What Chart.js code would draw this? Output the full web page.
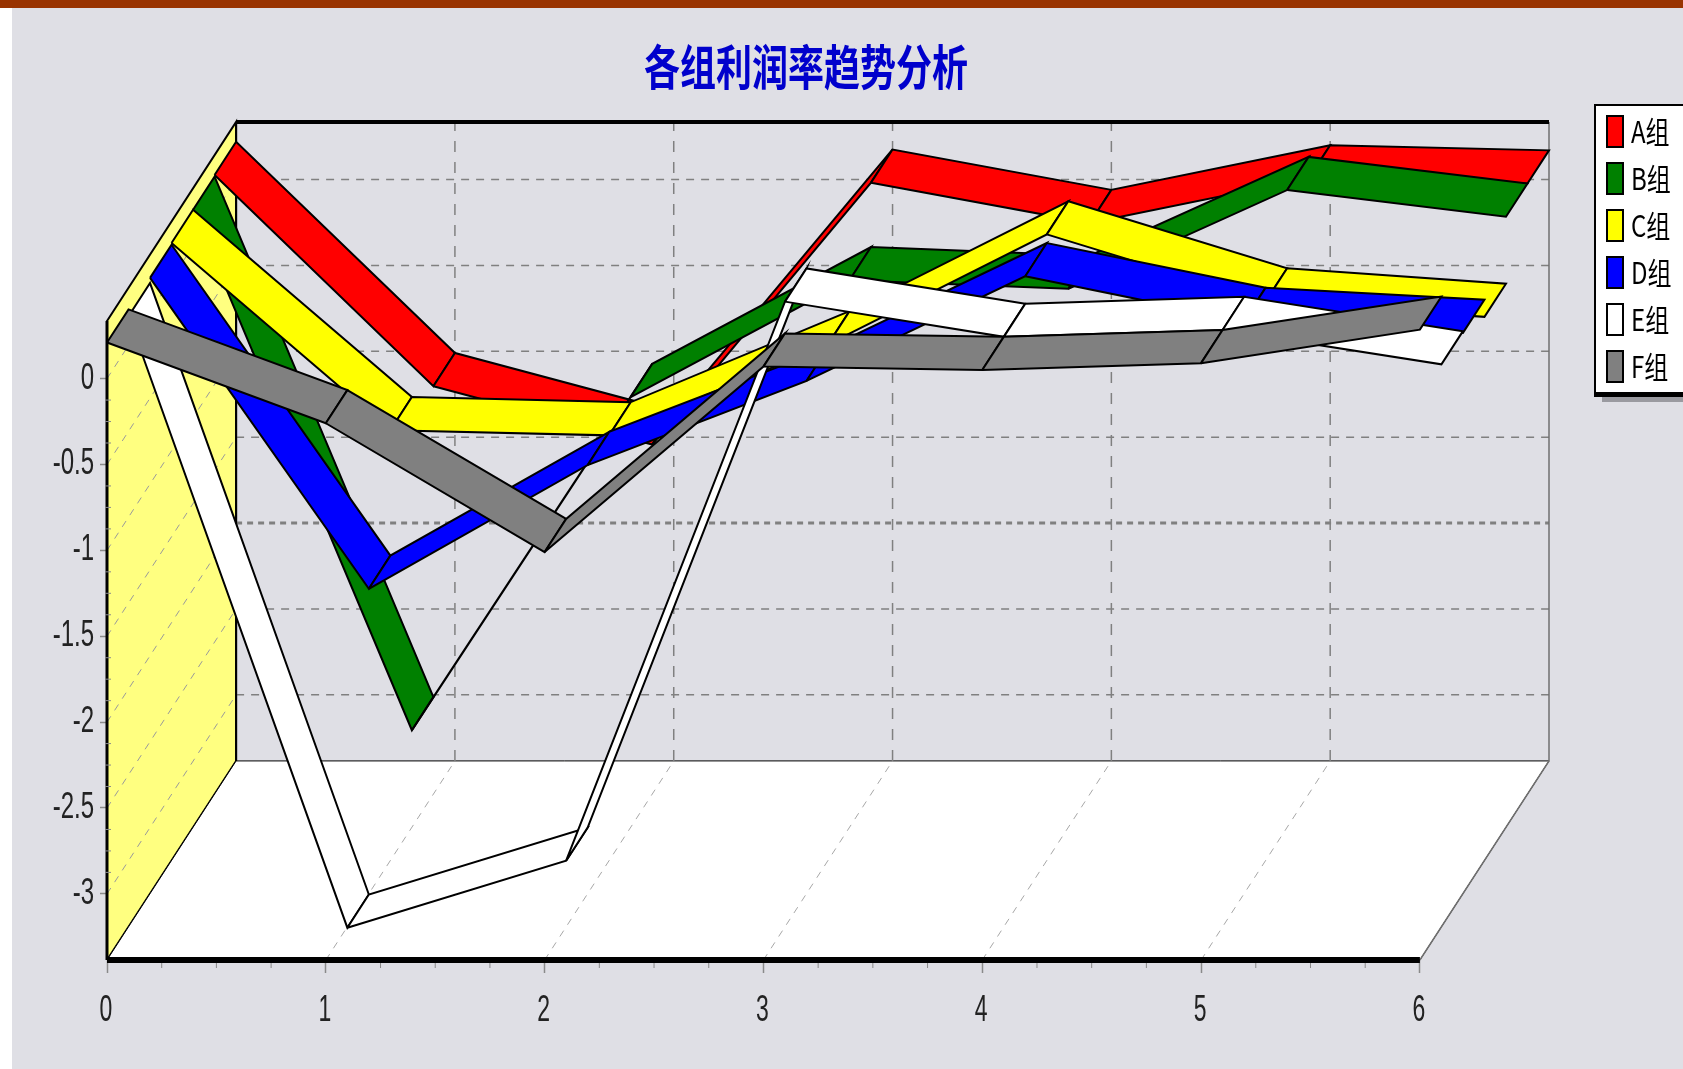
<!DOCTYPE html>
<html>
<head>
<meta charset="utf-8">
<title>各组利润率趋势分析</title>
<script src="https://cdn.jsdelivr.net/npm/chart.js@4"></script>
<style>
html, body { margin: 0; padding: 0; background: #fff; }
#wrap { position: relative; width: 1683px; height: 1069px; overflow: hidden; background: #fff; }
#topbar { position: absolute; left: 0; top: 0; width: 1683px; height: 8px; background: #993300; }
#panel { position: absolute; left: 12px; top: 8px; width: 1671px; height: 1061px; background: #dfdfe5; }
#chart { position: absolute; left: 0; top: 0; filter: blur(0.6px); }
</style>
</head>
<body>
<div id="wrap">
<div id="panel"></div>
<div id="topbar"></div>
<canvas id="chart" width="1683" height="1069"></canvas>
</div>
<script>
// Dados
const titleText = '各组利润率趋势分析';
const groups = ['A组', 'B组', 'C组', 'D组', 'E组', 'F组'];
const xTicks = [0, 1, 2, 3, 4, 5, 6];
const yTicks = [0, -0.5, -1, -1.5, -2, -2.5, -3];

const groupA = [0.22, -1.01, -1.35, 0.175, -0.06, 0.2, 0.17];
const groupB = [0.21, -2.82, -0.88, -0.2, -0.25, 0.325, 0.17];
const groupC = [0.21, -0.88, -0.91, -0.38, 0.26, -0.13, -0.22];
const groupD = [0.2, -1.61, -0.89, -0.4, 0.21, -0.05, -0.12];
const groupE = [0.17, -3.39, -3.0, 0.255, 0.05, 0.09, -0.11];
const groupF = [0.21, -0.26, -1.01, 0.07, 0.05, 0.09, 0.285];

const colorA = '#ff0000';
const colorB = '#008000';
const colorC = '#ffff00';
const colorD = '#0000ff';
const colorE = '#ffffff';
const colorF = '#808080';

// Eixos e profundidade 3D, em unidades dos eixos
const yMin = -3.385;
const yTop = 0.335;
const depthX = 0.59;
const depthY = 1.159;

const allGroups = [groupA, groupB, groupC, groupD, groupE, groupF];
const allColors = [colorA, colorB, colorC, colorD, colorE, colorF];

const datasets = [];

function addShape(points, fillColor, lineColor, lineWidth, dash) {
    datasets.push({
        data: points,
        showLine: true,
        fill: fillColor ? 'shape' : false,
        backgroundColor: fillColor || 'transparent',
        borderColor: lineColor,
        borderWidth: lineWidth,
        borderDash: dash || [],
        pointRadius: 0,
        tension: 0,
        clip: false
    });
}

function atDepth(x, y, d) {
    return { x: x + depthX * d, y: y + depthY * d };
}

// Parede esquerda e chão
addShape([atDepth(0, yMin, 0), atDepth(0, yMin, 1), atDepth(0, yTop, 1), atDepth(0, yTop, 0), atDepth(0, yMin, 0)], '#ffff80', '#000000', 2);
addShape([atDepth(0, yMin, 0), atDepth(6, yMin, 0), atDepth(6, yMin, 1), atDepth(0, yMin, 1), atDepth(0, yMin, 0)], '#ffffff', '#000000', 1);

// Grade da parede de fundo
yTicks.forEach(v => {
    const heavy = v === -2;
    addShape([atDepth(0, v, 1), atDepth(6, v, 1)], null, '#808080', heavy ? 3 : 1.5, heavy ? [6, 5] : [8, 7]);
    addShape([atDepth(0, v, 0), atDepth(0, v, 1)], null, '#9a9a9a', 1, [7, 7]);
});
xTicks.slice(1, 6).forEach(v => {
    addShape([atDepth(v, yMin, 1), atDepth(v, yTop, 1)], null, '#808080', 1.5, [11, 10]);
    addShape([atDepth(v, yMin, 0), atDepth(v, yMin, 1)], null, '#a8a8a8', 1, [7, 7]);
});

// Contorno do fundo
addShape([atDepth(6, yMin, 0), atDepth(6, yMin, 1), atDepth(6, yTop, 1)], null, '#707070', 1.5);
addShape([atDepth(0, yMin, 1), atDepth(0, yTop, 1)], null, '#000000', 2);
addShape([atDepth(0, yTop, 1), atDepth(6, yTop, 1)], null, '#000000', 4);

// Fitas: do fundo (A) para a frente (F), um polígono por trecho
allGroups.forEach((values, g) => {
    const front = (5 - g) / 6;
    const back = (6 - g) / 6;
    for (let i = 0; i < values.length - 1; i++) {
        const a = xTicks[i];
        const b = xTicks[i + 1];
        addShape([
            atDepth(a, values[i], front),
            atDepth(b, values[i + 1], front),
            atDepth(b, values[i + 1], back),
            atDepth(a, values[i], back),
            atDepth(a, values[i], front)
        ], allColors[g], '#000000', 2);
    }
});

// Bordas da frente
addShape([atDepth(0, yMin, 0), atDepth(0, yTop, 0)], null, '#000000', 3);
addShape([atDepth(0, yMin, 0), atDepth(6, yMin, 0)], null, '#000000', 6);

// O Chart.js desenha por último o dataset de menor "order"
datasets.forEach((ds, i) => { ds.order = datasets.length - i; });

// O texto do original é esticado na vertical
function stretchedText(ctx, text, x, y, font, color, align, scaleY) {
    ctx.save();
    ctx.translate(x, y);
    ctx.scale(1, scaleY);
    ctx.font = font;
    ctx.fillStyle = color;
    ctx.textAlign = align;
    ctx.textBaseline = 'middle';
    ctx.fillText(text, 0, 0);
    ctx.restore();
}

const extrasPlugin = {
    id: 'extras',
    afterDraw(chart) {
        const ctx = chart.ctx;
        const xScale = chart.scales.x;
        const yScale = chart.scales.y;

        // Marcas menores dos eixos
        ctx.save();
        ctx.strokeStyle = '#8a8a8a';
        ctx.lineWidth = 1;
        ctx.beginPath();
        xTicks.slice(0, 6).forEach(v => {
            [0.25, 0.5, 0.75].forEach(f => {
                const px = xScale.getPixelForValue(v + f);
                ctx.moveTo(px, chart.chartArea.bottom + 3);
                ctx.lineTo(px, chart.chartArea.bottom + 8);
            });
        });
        yTicks.slice(0, 6).forEach(v => {
            [0.125, 0.25, 0.375].forEach(f => {
                const py = yScale.getPixelForValue(v - f);
                ctx.moveTo(chart.chartArea.left - 2, py);
                ctx.lineTo(chart.chartArea.left + 4, py);
            });
        });
        ctx.stroke();
        ctx.restore();

        // Rótulos dos eixos
        xScale.ticks.forEach(t => {
            stretchedText(ctx, String(t.value), xScale.getPixelForValue(t.value) - 1, 1011, '23px "Liberation Sans"', '#222222', 'center', 1.6);
        });
        yScale.ticks.forEach(t => {
            stretchedText(ctx, String(t.value), 94, yScale.getPixelForValue(t.value), '24px "Liberation Sans"', '#222222', 'right', 1.5);
        });

        // Título
        stretchedText(ctx, titleText, 806, 67, 'bold 36px "Noto Sans CJK SC"', '#0000cc', 'center', 1.33);

        // Legenda
        ctx.save();
        ctx.fillStyle = '#9a9aa0';
        ctx.fillRect(1602, 397, 81, 5);
        ctx.fillStyle = '#000000';
        ctx.fillRect(1594, 104, 89, 293);
        ctx.fillStyle = '#ffffff';
        ctx.fillRect(1596, 106, 87, 286);
        ctx.restore();
        groups.forEach((name, i) => {
            const top = 116 + i * 47;
            ctx.save();
            ctx.fillStyle = allColors[i];
            ctx.strokeStyle = '#000000';
            ctx.lineWidth = 2;
            ctx.fillRect(1607, top, 16, 31);
            ctx.strokeRect(1607, top, 16, 31);
            ctx.restore();
            stretchedText(ctx, name, 1631, top + 16, '24px "Noto Sans CJK SC"', '#000000', 'left', 1.25);
        });
    }
};

const ctx = document.getElementById('chart').getContext('2d');
new Chart(ctx, {
    type: 'scatter',
    data: { datasets: datasets },
    options: {
        responsive: false,
        animation: false,
        events: [],
        layout: { padding: { left: 0, top: 122, right: 134, bottom: 0 } },
        plugins: { legend: { display: false }, tooltip: { enabled: false } },
        scales: {
            x: {
                type: 'linear',
                min: 0,
                max: 6 + depthX,
                afterBuildTicks: scale => { scale.ticks = xTicks.map(v => ({ value: v })); },
                afterFit: scale => { scale.height = 109; },
                border: { display: false },
                grid: { drawOnChartArea: false, tickLength: 13, tickColor: '#8a8a8a', tickWidth: 1.5 },
                ticks: { display: false, autoSkip: false, maxRotation: 0 }
            },
            y: {
                type: 'linear',
                min: yMin,
                max: yTop + depthY,
                afterBuildTicks: scale => { scale.ticks = yTicks.map(v => ({ value: v })); },
                afterFit: scale => { scale.width = 107; },
                border: { display: false },
                grid: { drawOnChartArea: false, tickLength: 7, tickColor: '#8a8a8a', tickWidth: 1.5 },
                ticks: { display: false, autoSkip: false }
            }
        }
    },
    plugins: [extrasPlugin]
});
</script>
</body>
</html>
